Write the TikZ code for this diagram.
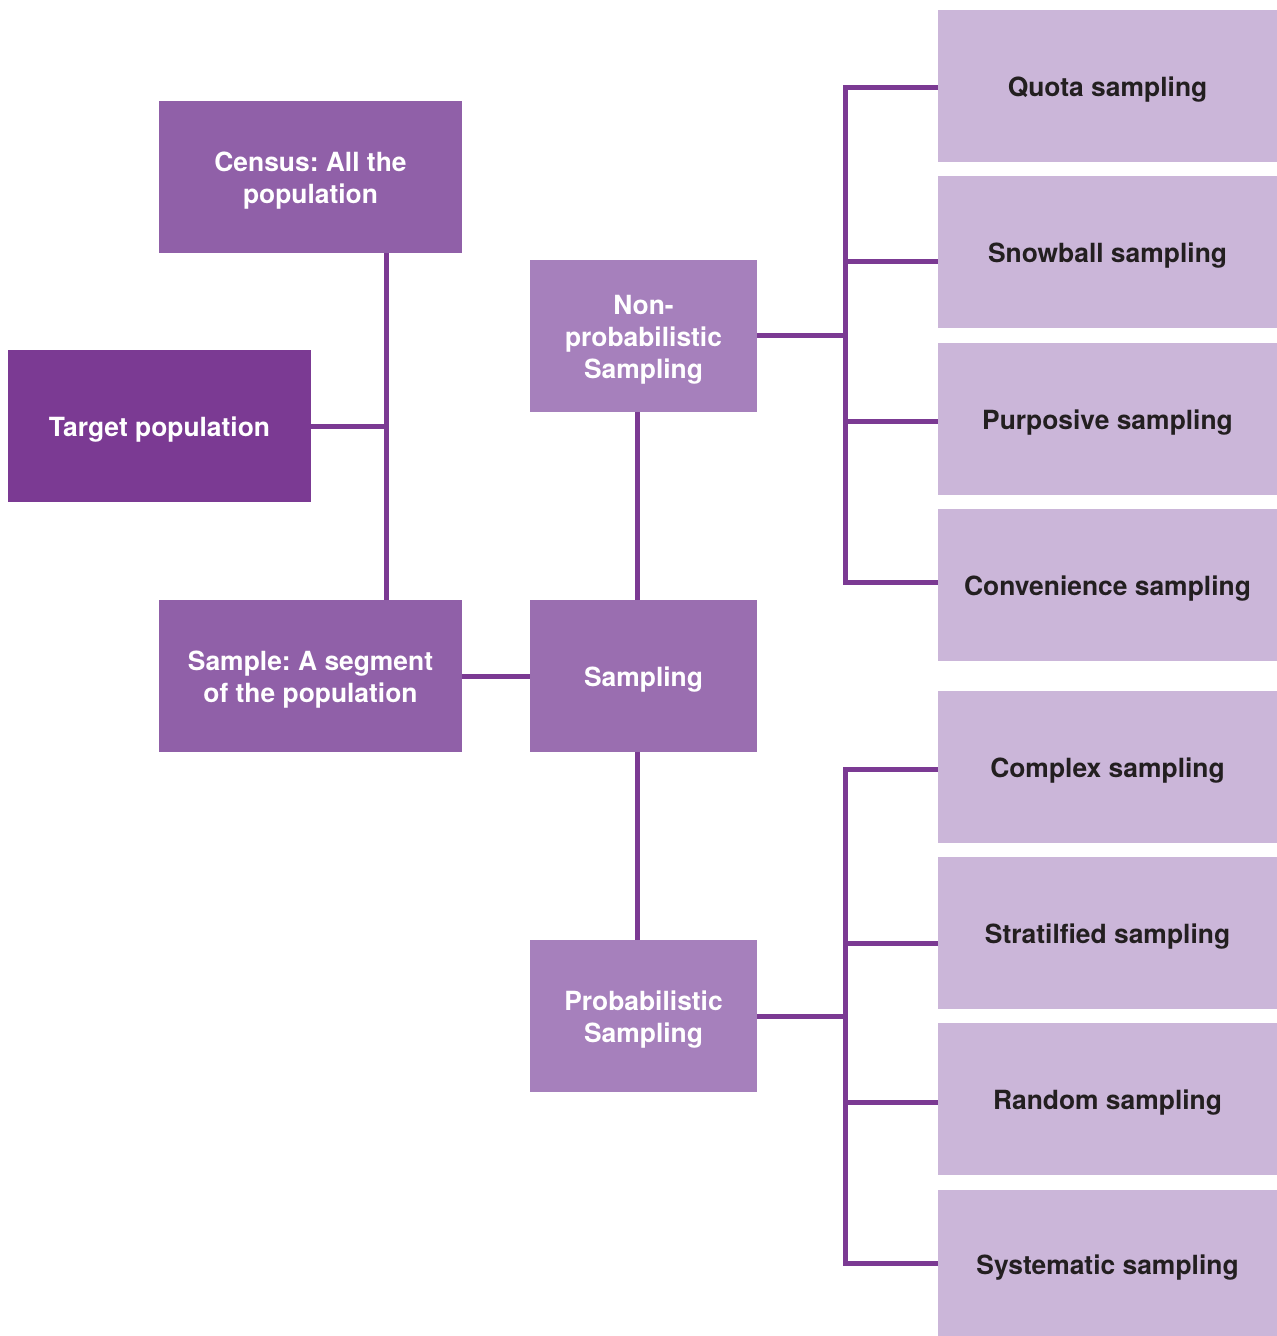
\documentclass[tikz,border=0pt]{standalone}
\usepackage{fontspec}
\setmainfont{TeX Gyre Heros}
\frenchspacing
\definecolor{linec}{HTML}{7B3A93}
\definecolor{targetc}{HTML}{7B3A93}
\definecolor{midc}{HTML}{9060A8}
\definecolor{sampc}{HTML}{9A6EB0}
\definecolor{lightc}{HTML}{A680BC}
\definecolor{palec}{HTML}{CBB6D9}
\definecolor{textdark}{HTML}{231F20}
\newcommand\dn[1]{\raisebox{-1.75pt}[\height][\depth]{#1}}
\begin{document}
\begin{tikzpicture}[x=0.5pt,y=-0.5pt,
  box/.style={rectangle, inner sep=0pt, align=center, text=white,
    font=\fontsize{13.2}{16}\selectfont\bfseries},
  leftbox/.style={box, fill=midc, minimum width=151.5pt, minimum height=76pt},
  midbox/.style={box, minimum width=113.5pt, minimum height=76pt},
  rightbox/.style={box, fill=palec, text=textdark, minimum width=169.5pt, minimum height=76pt},
  conn/.style={draw=linec, line width=2.5pt, line join=miter}]
\useasboundingbox (0,0) rectangle (1277,1336);
\fill[white] (0,0) rectangle (1277,1336);

\node[leftbox] (census) at (310.5,177) {\dn{Census: All the}\\\dn{population}};
\node[leftbox, fill=targetc] (target) at (159.5,426) {\dn{Target population}};
\node[leftbox] (sample) at (310.5,676) {\dn{Sample: A segment}\\\dn{of the population}};
\node[midbox, fill=lightc] (nonprob) at (643.5,336) {\dn{Non-}\\\dn{probabilistic}\\\dn{Sampling}};
\node[midbox, fill=sampc] (sampling) at (643.5,676) {\dn{Sampling}};
\node[midbox, fill=lightc] (prob) at (643.5,1016) {\dn{Probabilistic}\\\dn{Sampling}};

\node[rightbox] (quota) at (1107.5,86) {\dn{Quota sampling}};
\node[rightbox] (snow) at (1107.5,252) {\dn{Snowball sampling}};
\node[rightbox] (purp) at (1107.5,419) {\dn{Purposive sampling}};
\node[rightbox] (conv) at (1107.5,585) {\dn{Convenience sampling}};
\node[rightbox] (complex) at (1107.5,767) {\dn{Complex sampling}};
\node[rightbox] (strat) at (1107.5,933) {\dn{Stratilfied sampling}};
\node[rightbox] (random) at (1107.5,1099) {\dn{Random sampling}};
\node[rightbox, minimum height=73pt] (syst) at (1107.5,1263) {\raisebox{-2.5pt}[\height][\depth]{Systematic sampling}};

\coordinate (vx) at (386,0);
\coordinate (sx) at (637,0);
\coordinate (bx) at (845,0);

% left tree
\draw[conn] (census.south -| vx) -- (sample.north -| vx);
\draw[conn] (target.east) -- (target.east -| vx);
\draw[conn] (sample.east) -- (sampling.west);
\draw[conn] (sampling.north -| sx) -- (nonprob.south -| sx);
\draw[conn] (sampling.south -| sx) -- (prob.north -| sx);

% upper bracket
\coordinate (a1) at ([yshift=-1pt]quota.west);
\coordinate (a2) at ([yshift=-5pt]snow.west);
\coordinate (a3) at ([yshift=-1pt]purp.west);
\coordinate (a4) at ([yshift=1.5pt]conv.west);
\draw[conn] (a1) -- (a1 -| bx) -- (a4 -| bx) -- (a4);
\draw[conn] (a2) -- (a2 -| bx);
\draw[conn] (a3) -- (a3 -| bx);
\draw[conn] (nonprob.east) -- (nonprob.east -| bx);

% lower bracket
\coordinate (b1) at ([yshift=-1pt]complex.west);
\coordinate (b2) at ([yshift=-5pt]strat.west);
\coordinate (b3) at ([yshift=-1.5pt]random.west);
\coordinate (b4) at (syst.west);
\draw[conn] (b1) -- (b1 -| bx) -- (b4 -| bx) -- (b4);
\draw[conn] (b2) -- (b2 -| bx);
\draw[conn] (b3) -- (b3 -| bx);
\draw[conn] (prob.east) -- (prob.east -| bx);
\end{tikzpicture}
\end{document}
